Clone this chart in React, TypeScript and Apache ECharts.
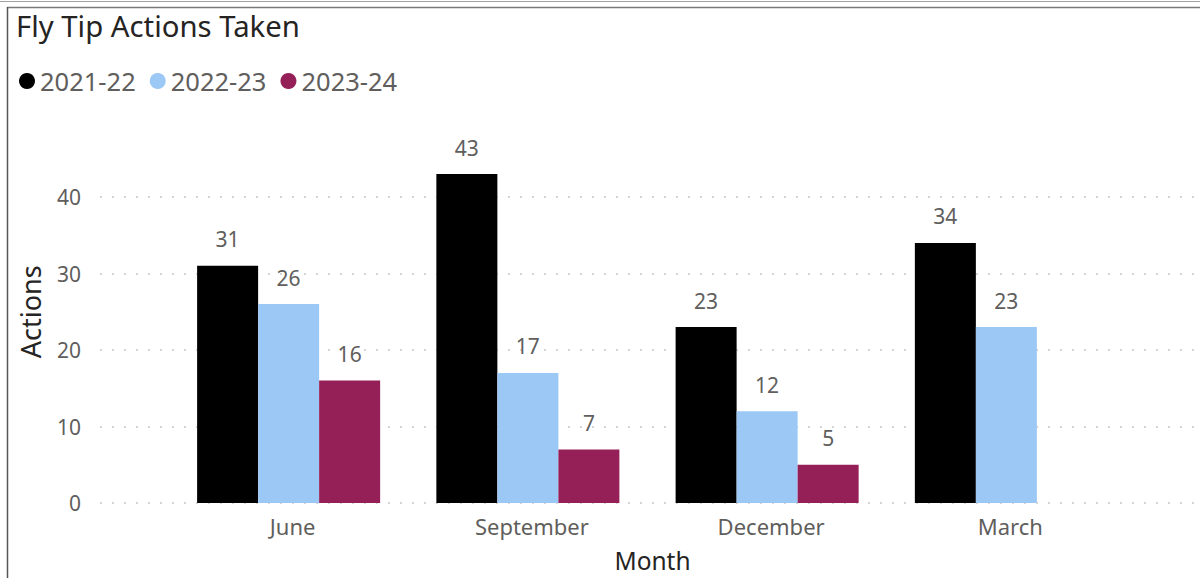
import React, { useEffect, useRef } from "react";
import * as echarts from "echarts";

const months = ["June", "September", "December", "March"];
const seriesNames = ["2021-22", "2022-23", "2023-24"];
const values2122 = [31, 43, 23, 34];
const values2223 = [26, 17, 12, 23];
const values2324 = [16, 7, 5, null];
const colors = ["#000000", "#9CC8F5", "#951F57"];
const yTicks = { min: 0, max: 50, interval: 10 };

const FONT = "'Noto Sans', 'Open Sans', sans-serif";

export default function App() {
  const ref = useRef<HTMLDivElement>(null);
  useEffect(() => {
    if (!ref.current) return;
    const chart = echarts.init(ref.current, null, { renderer: "svg" });
    const allValues = [values2122, values2223, values2324];
    const top = 120.5;
    const bottom = 75;
    chart.setOption({
      animation: false,
      backgroundColor: "#ffffff",
      textStyle: { fontFamily: FONT },
      title: {
        text: "Fly Tip Actions Taken",
        left: 11,
        top: 6,
        textStyle: { fontFamily: FONT, fontSize: 29.3, fontWeight: "normal", color: "#252423" },
      },
      legend: {
        left: 14,
        top: 63,
        icon: "circle",
        itemWidth: 16,
        itemHeight: 16,
        itemGap: 14,
        data: seriesNames,
        textStyle: { fontFamily: FONT, fontSize: 25.5, color: "#605E5C" },
      },
      graphic: [
        { type: "line", shape: { x1: 0, y1: 1.5, x2: 1200, y2: 1.5 }, style: { stroke: "#a0a0a0", lineWidth: 1 } },
        { type: "line", shape: { x1: 7, y1: 7.5, x2: 1200, y2: 7.5 }, style: { stroke: "#7a7a7a", lineWidth: 1.5 } },
        { type: "line", shape: { x1: 7.5, y1: 7, x2: 7.5, y2: 578 }, style: { stroke: "#555555", lineWidth: 1.5 } },
      ],
      grid: [
        { left: 100, right: 0, top, bottom },
        { left: 169, right: 74, top, bottom },
      ],
      xAxis: [
        { type: "value", gridIndex: 0, show: false, min: 0, max: 1 },
        {
          type: "category",
          gridIndex: 1,
          data: months,
          axisLine: { show: false },
          axisTick: { show: false },
          axisLabel: { fontFamily: FONT, fontSize: 22, color: "#605E5C", margin: 12, padding: [0, 0, 0, 8] },
          name: "Month",
          nameLocation: "middle",
          nameGap: 45,
          nameTextStyle: { fontFamily: FONT, fontSize: 24.5, color: "#252423", padding: [0, 0, 0, 10] },
        },
      ],
      yAxis: [
        {
          type: "value",
          gridIndex: 0,
          min: yTicks.min,
          max: yTicks.max,
          interval: yTicks.interval,
          axisLine: { show: false },
          axisTick: { show: false },
          axisLabel: { fontFamily: FONT, fontSize: 21, color: "#605E5C", margin: 19, showMaxLabel: false },
          splitLine: {
            show: true,
            showMaxLine: false,
            lineStyle: { color: "#c8c8c8", type: [2, 10], width: 1.5 },
          },
          name: "Actions",
          nameLocation: "middle",
          nameRotate: 90,
          nameGap: 56,
          nameTextStyle: { fontFamily: FONT, fontSize: 27, color: "#252423" },
        },
        {
          type: "value",
          gridIndex: 1,
          min: yTicks.min,
          max: yTicks.max,
          interval: yTicks.interval,
          show: false,
          splitLine: { show: false },
        },
      ],
      series: seriesNames.map((name, i) => ({
        name,
        type: "bar",
        xAxisIndex: 1,
        yAxisIndex: 1,
        data: allValues[i],
        barGap: "0%",
        barCategoryGap: "23.5%",
        itemStyle: { color: colors[i] },
        label: {
          show: true,
          position: "top",
          distance: 16,
          fontFamily: FONT,
          fontSize: 21,
          color: "#605E5C",
        },
      })),
    });
    return () => chart.dispose();
  }, []);
  return (
    <div
      ref={ref}
      style={{ position: "fixed", left: 0, top: 0, width: 1200, height: 578 }}
    />
  );
}
